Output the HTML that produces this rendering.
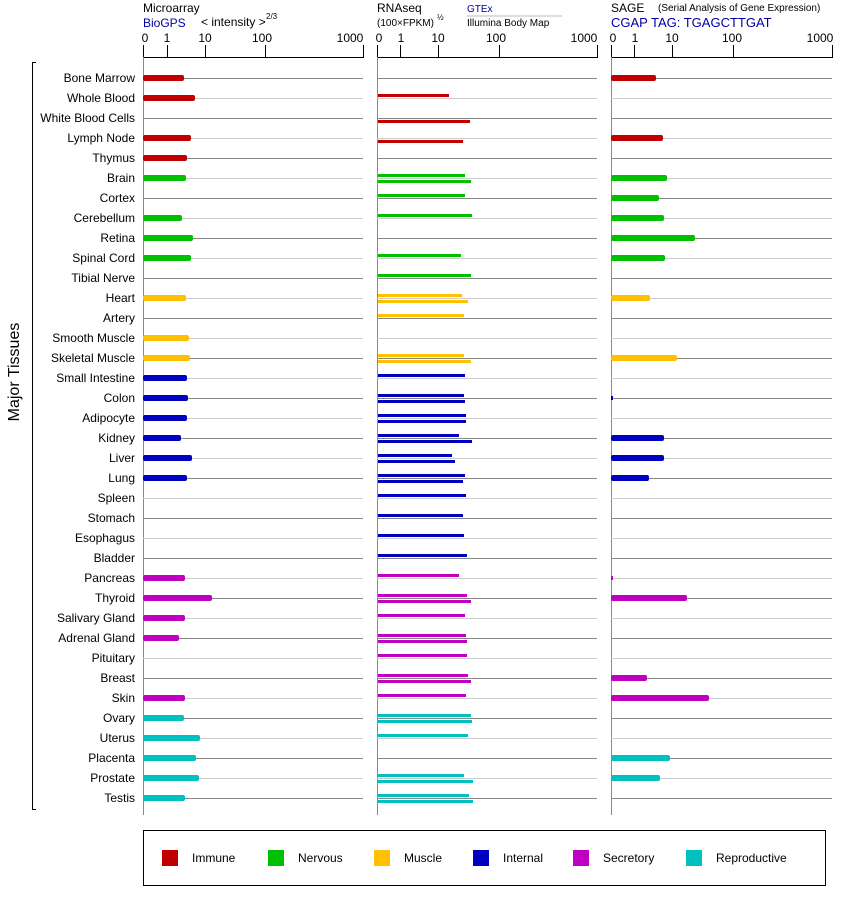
<!DOCTYPE html>
<html><head><meta charset="utf-8"><style>
body{margin:0;background:#fff}
svg{display:block;font-family:"Liberation Sans",Arial,sans-serif}
</style></head><body>
<svg width="842" height="900" viewBox="0 0 842 900" xmlns="http://www.w3.org/2000/svg">
<rect width="842" height="900" fill="#fff"/>
<g font-size="12" fill="#000">
<text x="143" y="12">Microarray</text>
<text x="143" y="27" fill="#0000a0">BioGPS</text>
<text x="201" y="26" font-size="12">&lt; intensity &gt;</text>
<text x="266" y="19" font-size="8">2/3</text>
<text x="377" y="12">RNAseq</text>
<text x="377" y="26" font-size="10">(100×FPKM)</text>
<text x="437" y="20" font-size="8">½</text>
<text x="467" y="12" font-size="10" fill="#0000a0">GTEx</text>
<line x1="467" y1="16" x2="562" y2="16" stroke="#bbb"/>
<text x="467" y="26" font-size="10">Illumina Body Map</text>
<text x="611" y="12">SAGE</text>
<text x="658" y="11" font-size="10">(Serial Analysis of Gene Expression)</text>
<text x="611" y="27" fill="#0000a0" font-size="13">CGAP TAG: TGAGCTTGAT</text>
</g>
<g stroke="#000" stroke-width="1" fill="none">
<path d="M143.5 45V57.5H363.5V45M167.5 45V57M205.5 45V57M265.5 45V57"/>
<path d="M377.5 45V57.5H597.5V45M400.5 45V57M438.5 45V57M499.5 45V57"/>
<path d="M611.5 45V57.5H832.5V45M634.5 45V57M672.5 45V57M733.5 45V57"/>
</g>
<g font-size="12" fill="#000" text-anchor="middle">
<text x="145" y="42">0</text><text x="167" y="42">1</text><text x="205" y="42">10</text><text x="262" y="42">100</text><text x="350" y="42">1000</text>
<text x="379" y="42">0</text><text x="401" y="42">1</text><text x="438" y="42">10</text><text x="496" y="42">100</text><text x="584" y="42">1000</text>
<text x="613" y="42">0</text><text x="635" y="42">1</text><text x="672" y="42">10</text><text x="732" y="42">100</text><text x="820" y="42">1000</text>
</g>
<g stroke="#888"><line x1="143.5" y1="57" x2="143.5" y2="815"/><line x1="377.5" y1="57" x2="377.5" y2="815"/><line x1="611.5" y1="57" x2="611.5" y2="815"/></g>
<g>
<path stroke="#888" d="M143 78.5H363M377 78.5H597M611 78.5H832M143 118.5H363M377 118.5H597M611 118.5H832M143 158.5H363M377 158.5H597M611 158.5H832M143 198.5H363M377 198.5H597M611 198.5H832M143 238.5H363M377 238.5H597M611 238.5H832M143 278.5H363M377 278.5H597M611 278.5H832M143 318.5H363M377 318.5H597M611 318.5H832M143 358.5H363M377 358.5H597M611 358.5H832M143 398.5H363M377 398.5H597M611 398.5H832M143 438.5H363M377 438.5H597M611 438.5H832M143 478.5H363M377 478.5H597M611 478.5H832M143 518.5H363M377 518.5H597M611 518.5H832M143 558.5H363M377 558.5H597M611 558.5H832M143 598.5H363M377 598.5H597M611 598.5H832M143 638.5H363M377 638.5H597M611 638.5H832M143 678.5H363M377 678.5H597M611 678.5H832M143 718.5H363M377 718.5H597M611 718.5H832M143 758.5H363M377 758.5H597M611 758.5H832M143 798.5H363M377 798.5H597M611 798.5H832"/>
<path stroke="#ccc" d="M143 98.5H363M377 98.5H597M611 98.5H832M143 138.5H363M377 138.5H597M611 138.5H832M143 178.5H363M377 178.5H597M611 178.5H832M143 218.5H363M377 218.5H597M611 218.5H832M143 258.5H363M377 258.5H597M611 258.5H832M143 298.5H363M377 298.5H597M611 298.5H832M143 338.5H363M377 338.5H597M611 338.5H832M143 378.5H363M377 378.5H597M611 378.5H832M143 418.5H363M377 418.5H597M611 418.5H832M143 458.5H363M377 458.5H597M611 458.5H832M143 498.5H363M377 498.5H597M611 498.5H832M143 538.5H363M377 538.5H597M611 538.5H832M143 578.5H363M377 578.5H597M611 578.5H832M143 618.5H363M377 618.5H597M611 618.5H832M143 658.5H363M377 658.5H597M611 658.5H832M143 698.5H363M377 698.5H597M611 698.5H832M143 738.5H363M377 738.5H597M611 738.5H832M143 778.5H363M377 778.5H597M611 778.5H832"/>
</g>
<g font-size="12" fill="#000" text-anchor="end">
<text x="135" y="82">Bone Marrow</text><text x="135" y="102">Whole Blood</text><text x="135" y="122">White Blood Cells</text><text x="135" y="142">Lymph Node</text><text x="135" y="162">Thymus</text>
<text x="135" y="182">Brain</text><text x="135" y="202">Cortex</text><text x="135" y="222">Cerebellum</text><text x="135" y="242">Retina</text><text x="135" y="262">Spinal Cord</text><text x="135" y="282">Tibial Nerve</text>
<text x="135" y="302">Heart</text><text x="135" y="322">Artery</text><text x="135" y="342">Smooth Muscle</text><text x="135" y="362">Skeletal Muscle</text>
<text x="135" y="382">Small Intestine</text><text x="135" y="402">Colon</text><text x="135" y="422">Adipocyte</text><text x="135" y="442">Kidney</text><text x="135" y="462">Liver</text><text x="135" y="482">Lung</text><text x="135" y="502">Spleen</text><text x="135" y="522">Stomach</text><text x="135" y="542">Esophagus</text><text x="135" y="562">Bladder</text>
<text x="135" y="582">Pancreas</text><text x="135" y="602">Thyroid</text><text x="135" y="622">Salivary Gland</text><text x="135" y="642">Adrenal Gland</text><text x="135" y="662">Pituitary</text><text x="135" y="682">Breast</text><text x="135" y="702">Skin</text>
<text x="135" y="722">Ovary</text><text x="135" y="742">Uterus</text><text x="135" y="762">Placenta</text><text x="135" y="782">Prostate</text><text x="135" y="802">Testis</text>
</g>
<path d="M36 62.5H32.5V809.5H36" stroke="#000" fill="none"/>
<text transform="translate(19,372) rotate(-90)" font-size="16" text-anchor="middle">Major Tissues</text>
<g>
<g fill="#c00000"><rect x="143" y="75" width="41" height="6" rx="2"/><rect x="143" y="95" width="52" height="6" rx="2"/><rect x="143" y="135" width="48" height="6" rx="2"/><rect x="143" y="155" width="44" height="6" rx="2"/></g>
<g fill="#00c000"><rect x="143" y="175" width="43" height="6" rx="2"/><rect x="143" y="215" width="39" height="6" rx="2"/><rect x="143" y="235" width="50" height="6" rx="2"/><rect x="143" y="255" width="48" height="6" rx="2"/></g>
<g fill="#ffc000"><rect x="143" y="295" width="43" height="6" rx="2"/><rect x="143" y="335" width="46" height="6" rx="2"/><rect x="143" y="355" width="47" height="6" rx="2"/></g>
<g fill="#0000c0"><rect x="143" y="375" width="44" height="6" rx="2"/><rect x="143" y="395" width="45" height="6" rx="2"/><rect x="143" y="415" width="44" height="6" rx="2"/><rect x="143" y="435" width="38" height="6" rx="2"/><rect x="143" y="455" width="49" height="6" rx="2"/><rect x="143" y="475" width="44" height="6" rx="2"/></g>
<g fill="#c000c0"><rect x="143" y="575" width="42" height="6" rx="2"/><rect x="143" y="595" width="69" height="6" rx="2"/><rect x="143" y="615" width="42" height="6" rx="2"/><rect x="143" y="635" width="36" height="6" rx="2"/><rect x="143" y="695" width="42" height="6" rx="2"/></g>
<g fill="#00c0c0"><rect x="143" y="715" width="41" height="6" rx="2"/><rect x="143" y="735" width="57" height="6" rx="2"/><rect x="143" y="755" width="53" height="6" rx="2"/><rect x="143" y="775" width="56" height="6" rx="2"/><rect x="143" y="795" width="42" height="6" rx="2"/></g>
</g>
<g>
<g fill="#c00000"><rect x="378" y="94" width="71" height="3"/><rect x="378" y="120" width="92" height="3"/><rect x="378" y="140" width="85" height="3"/></g>
<g fill="#00c000"><rect x="378" y="174" width="87" height="3"/><rect x="378" y="180" width="93" height="3"/><rect x="378" y="194" width="87" height="3"/><rect x="378" y="214" width="94" height="3"/><rect x="378" y="254" width="83" height="3"/><rect x="378" y="274" width="93" height="3"/></g>
<g fill="#ffc000"><rect x="378" y="294" width="84" height="3"/><rect x="378" y="300" width="90" height="3"/><rect x="378" y="314" width="86" height="3"/><rect x="378" y="354" width="86" height="3"/><rect x="378" y="360" width="93" height="3"/></g>
<g fill="#0000c0"><rect x="378" y="374" width="87" height="3"/><rect x="378" y="394" width="86" height="3"/><rect x="378" y="400" width="87" height="3"/><rect x="378" y="414" width="88" height="3"/><rect x="378" y="420" width="88" height="3"/><rect x="378" y="434" width="81" height="3"/><rect x="378" y="440" width="94" height="3"/><rect x="378" y="454" width="74" height="3"/><rect x="378" y="460" width="77" height="3"/><rect x="378" y="474" width="87" height="3"/><rect x="378" y="480" width="85" height="3"/><rect x="378" y="494" width="88" height="3"/><rect x="378" y="514" width="85" height="3"/><rect x="378" y="534" width="86" height="3"/><rect x="378" y="554" width="89" height="3"/></g>
<g fill="#c000c0"><rect x="378" y="574" width="81" height="3"/><rect x="378" y="594" width="89" height="3"/><rect x="378" y="600" width="93" height="3"/><rect x="378" y="614" width="87" height="3"/><rect x="378" y="634" width="88" height="3"/><rect x="378" y="640" width="89" height="3"/><rect x="378" y="654" width="89" height="3"/><rect x="378" y="674" width="90" height="3"/><rect x="378" y="680" width="93" height="3"/><rect x="378" y="694" width="88" height="3"/></g>
<g fill="#00c0c0"><rect x="378" y="714" width="93" height="3"/><rect x="378" y="720" width="94" height="3"/><rect x="378" y="734" width="90" height="3"/><rect x="378" y="774" width="86" height="3"/><rect x="378" y="780" width="95" height="3"/><rect x="378" y="794" width="91" height="3"/><rect x="378" y="800" width="95" height="3"/></g>
</g>
<g>
<g fill="#c00000"><rect x="611" y="75" width="45" height="6" rx="2"/><rect x="611" y="135" width="52" height="6" rx="2"/></g>
<g fill="#00c000"><rect x="611" y="175" width="56" height="6" rx="2"/><rect x="611" y="195" width="48" height="6" rx="2"/><rect x="611" y="215" width="53" height="6" rx="2"/><rect x="611" y="235" width="84" height="6" rx="2"/><rect x="611" y="255" width="54" height="6" rx="2"/></g>
<g fill="#ffc000"><rect x="611" y="295" width="39" height="6" rx="2"/><rect x="611" y="355" width="66" height="6" rx="2"/></g>
<g fill="#0000c0"><rect x="611" y="396" width="2" height="4"/><rect x="611" y="435" width="53" height="6" rx="2"/><rect x="611" y="455" width="53" height="6" rx="2"/><rect x="611" y="475" width="38" height="6" rx="2"/></g>
<g fill="#c000c0"><rect x="611" y="576" width="2" height="4"/><rect x="611" y="595" width="76" height="6" rx="2"/><rect x="611" y="675" width="36" height="6" rx="2"/><rect x="611" y="695" width="98" height="6" rx="2"/></g>
<g fill="#00c0c0"><rect x="611" y="755" width="59" height="6" rx="2"/><rect x="611" y="775" width="49" height="6" rx="2"/></g>
</g>
<rect x="143.5" y="830.5" width="682" height="55" fill="none" stroke="#000"/>
<g font-size="12">
<rect x="162" y="850" width="16" height="16" fill="#c00000"/><text x="192" y="862">Immune</text>
<rect x="268" y="850" width="16" height="16" fill="#00c000"/><text x="298" y="862">Nervous</text>
<rect x="374" y="850" width="16" height="16" fill="#ffc000"/><text x="404" y="862">Muscle</text>
<rect x="473" y="850" width="16" height="16" fill="#0000c0"/><text x="503" y="862">Internal</text>
<rect x="573" y="850" width="16" height="16" fill="#c000c0"/><text x="603" y="862">Secretory</text>
<rect x="686" y="850" width="16" height="16" fill="#00c0c0"/><text x="716" y="862">Reproductive</text>
</g>
</svg>
</body></html>
